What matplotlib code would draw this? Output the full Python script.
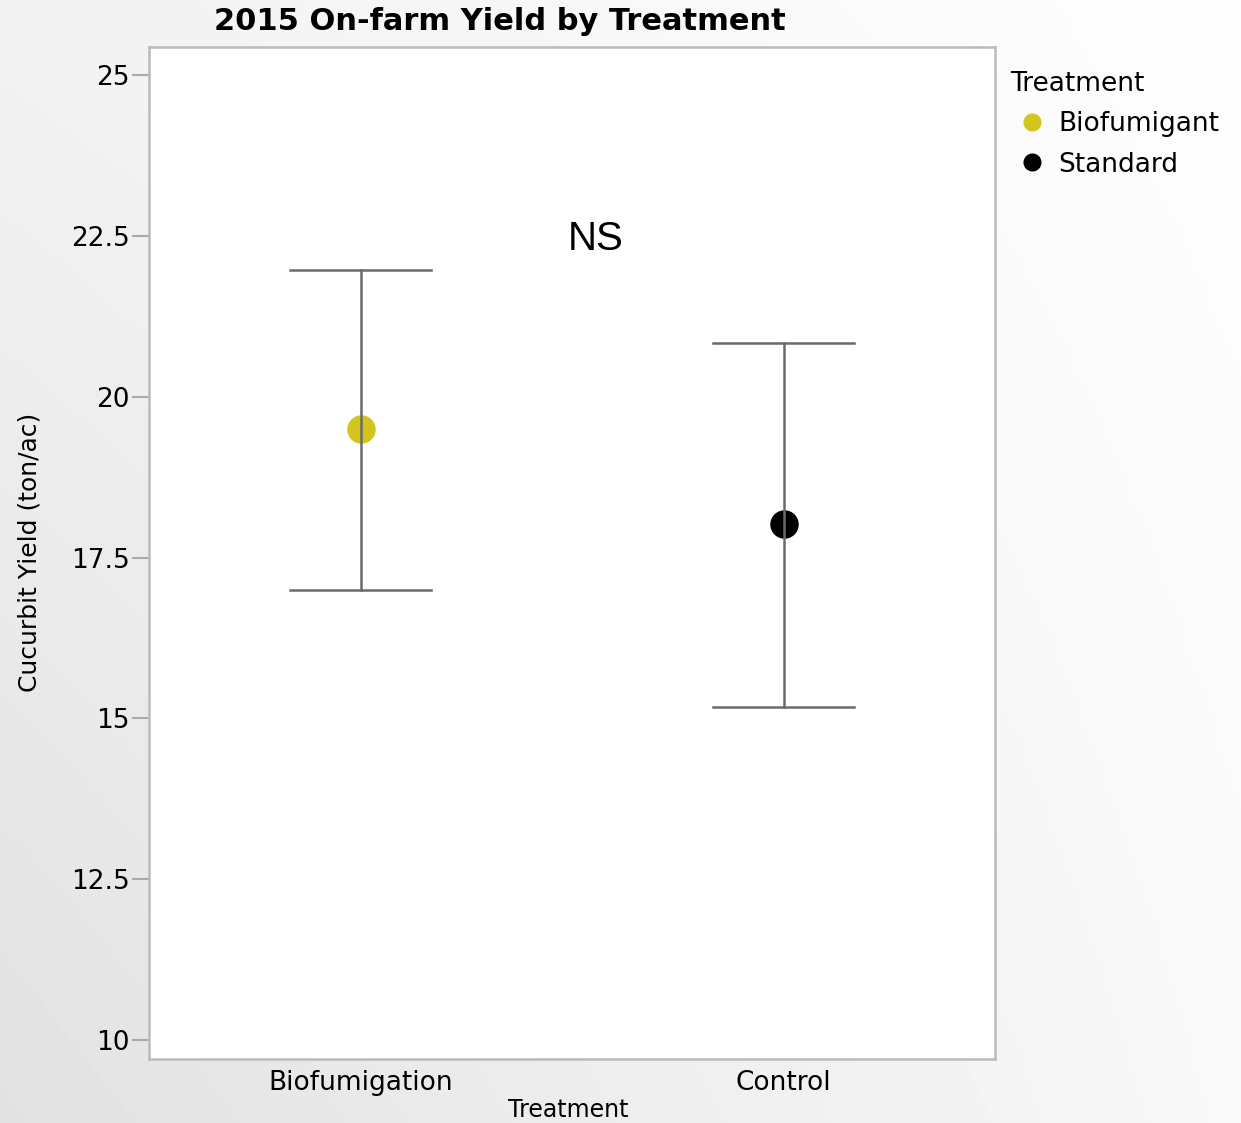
import matplotlib
matplotlib.use('Agg')
import matplotlib.pyplot as plt
import numpy as np
from matplotlib.lines import Line2D

# data
treatments = ['Biofumigation', 'Control']
groups = ['Biofumigant', 'Standard']
means = [19.5, 18.02]
upper = [21.97, 20.84]
lower = [17.0, 15.17]
colors = ['#d2c51d', '#000000']
y_ticks = [10, 12.5, 15, 17.5, 20, 22.5, 25]
y_tick_labels = ['10', '12.5', '15', '17.5', '20', '22.5', '25']

plt.rcParams['font.family'] = ['DejaVu Sans']

fig = plt.figure(figsize=(12.41, 11.23), dpi=100)
W, H = 1241, 1123

# soft grey background, darker to the lower left
bg = fig.add_axes([0, 0, 1, 1], zorder=-10)
xx, yy = np.meshgrid(np.linspace(0, 1, 200), np.linspace(0, 1, 200))
tl, bl, tr, br = 0.95, 0.885, 0.995, 0.975
shade = (tl * (1 - xx) * (1 - yy) + tr * xx * (1 - yy)
         + bl * (1 - xx) * yy + br * xx * yy)
bg.imshow(shade, cmap='gray', vmin=0, vmax=1, aspect='auto',
          extent=[0, 1, 0, 1], origin='upper')
bg.axis('off')

ax = fig.add_axes([149 / W, 1 - 1059 / H, (995 - 149) / W, (1059 - 47) / H])
ax.set_facecolor('white')

x = np.arange(len(treatments))
cap = 0.166
for i in range(len(treatments)):
    ax.scatter(x[i], means[i], s=420, color=colors[i], zorder=2, linewidths=0)
    ax.plot([x[i], x[i]], [lower[i], upper[i]], color='#6b6b6b', lw=1.8, zorder=3)
    for v in (lower[i], upper[i]):
        ax.plot([x[i] - cap, x[i] + cap], [v, v], color='#6b6b6b', lw=1.8, zorder=3)

ax.text(0.556, 22.45, 'NS', fontsize=29, ha='center', va='center',
        family='Liberation Sans')

ax.set_xlim(-0.5, 1.5)
ax.set_ylim(9.705, 25.435)
ax.set_xticks(x)
ax.set_xticklabels(treatments, fontsize=19)
ax.set_yticks(y_ticks)
ax.set_yticklabels(y_tick_labels, fontsize=19)
ax.tick_params(axis='y', length=12, width=1.5, color='#aaaaaa', pad=2)
ax.tick_params(axis='x', length=0, pad=8)
for s in ax.spines.values():
    s.set_color('#bbbbbb')
    s.set_linewidth(1.8)

fig.text(568 / W, 1 - 1110 / H, 'Treatment', fontsize=17, ha='center', va='center')
fig.text(30 / W, 1 - 552 / H, 'Cucurbit Yield (ton/ac)', fontsize=18,
         rotation=90, ha='center', va='center')
fig.text(500 / W, 1 - 22 / H, '2015 On-farm Yield by Treatment', fontsize=22,
         fontweight='bold', ha='center', va='center')

handles = [Line2D([], [], marker='o', ls='', color=c, markersize=12) for c in colors]
leg = fig.legend(handles, groups, title='Treatment', loc='upper left',
                 bbox_to_anchor=(1000 / W, 1 - 60 / H), frameon=False,
                 fontsize=19, title_fontsize=19, handletextpad=0.2,
                 handlelength=1.6, labelspacing=0.55, borderaxespad=0)
leg._legend_box.align = 'left'

fig.savefig('out.png', dpi=100)
